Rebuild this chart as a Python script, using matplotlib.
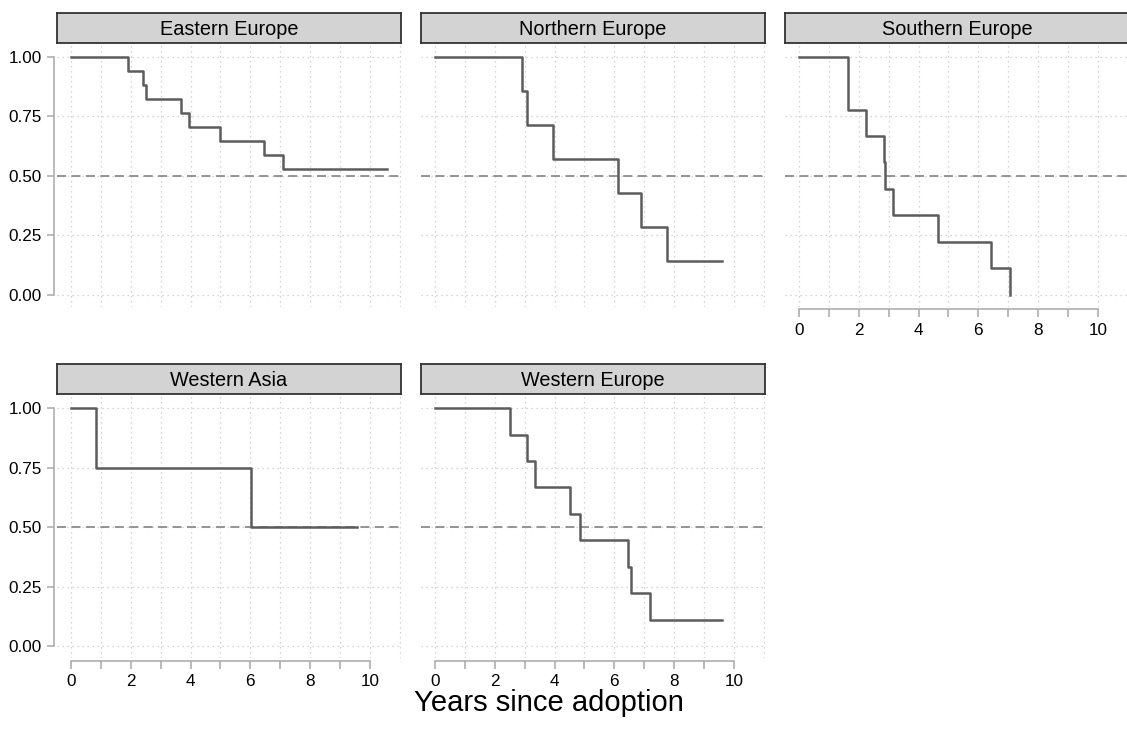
import numpy as np
import matplotlib
matplotlib.use("Agg")
import matplotlib.pyplot as plt

plt.rcParams['font.family'] = ['Liberation Sans', 'DejaVu Sans']

# Kaplan-Meier style curves
regions = ["Eastern Europe", "Northern Europe", "Southern Europe",
           "Western Asia", "Western Europe"]

eastern_t = [0, 1.92, 2.42, 2.50, 3.67, 3.93, 4.99, 6.44, 7.09, 10.57]
eastern_s = [1.0, 0.941, 0.882, 0.824, 0.765, 0.706, 0.647, 0.588, 0.529, 0.529]

northern_t = [0, 2.90, 3.07, 3.93, 6.11, 6.89, 7.77, 9.59]
northern_s = [1.0, 0.857, 0.714, 0.571, 0.429, 0.286, 0.143, 0.143]

southern_t = [0, 1.65, 2.25, 2.83, 2.89, 3.16, 4.66, 6.41, 7.06]
southern_s = [1.0, 0.778, 0.667, 0.556, 0.444, 0.333, 0.222, 0.111, 0.0]

wasia_t = [0, 0.85, 6.02, 9.56]
wasia_s = [1.0, 0.75, 0.50, 0.50]

weurope_t = [0, 2.51, 3.08, 3.34, 4.51, 4.85, 6.44, 6.57, 7.18, 9.59]
weurope_s = [1.0, 0.889, 0.778, 0.667, 0.556, 0.444, 0.333, 0.222, 0.111, 0.111]

curves = [(eastern_t, eastern_s), (northern_t, northern_s), (southern_t, southern_s),
          (wasia_t, wasia_s), (weurope_t, weurope_s)]

x_ticks = np.arange(0, 11, 1)
x_labels = ["0", "", "2", "", "4", "", "6", "", "8", "", "10"]
y_ticks = [0, 0.25, 0.5, 0.75, 1.0]
y_labels = ["0.00", "0.25", "0.50", "0.75", "1.00"]

W, H = 1127, 743
fig = plt.figure(figsize=(W / 100, H / 100), dpi=100)

col_left = [57, 421, 785]
panel_w = 344
row_top = [44.8, 396.4]
row_bot = [306.6, 657.9]
strip_top = [13, 364]
strip_bot = [43, 394]

axis_grey = "#a8a8a8"
line_grey = "#5c5c5c"

for i, (name, (t, s)) in enumerate(zip(regions, curves)):
    r, c = divmod(i, 3)
    left = col_left[c] / W
    bottom = 1 - row_bot[r] / H
    height = (row_bot[r] - row_top[r]) / H
    ax = fig.add_axes([left, bottom, panel_w / W, height])

    ax.set_xlim(-0.47, 11.04)
    ax.set_ylim(-0.05, 1.05)

    # dotted grid
    for gx in range(0, 12):
        ax.axvline(gx, color="#c8c8c8", lw=0.9, ls=(0, (1, 3)), zorder=0)
    for gy in y_ticks:
        ax.axhline(gy, color="#c8c8c8", lw=0.9, ls=(0, (1, 3)), zorder=0)

    ax.axhline(0.5, color="#8c8c8c", lw=1.3, ls=(0, (5, 3)), zorder=1)
    ax.step(t, s, where="post", color=line_grey, lw=1.8, zorder=2)

    for sp in ["top", "right"]:
        ax.spines[sp].set_visible(False)

    show_y = c == 0
    show_x = r == 1 or i == 2

    if show_y:
        ax.spines["left"].set_position(("outward", 2))
        ax.spines["left"].set_bounds(0, 1)
        ax.spines["left"].set_color(axis_grey)
        ax.spines["left"].set_linewidth(1.1)
        ax.set_yticks(y_ticks)
        ax.set_yticklabels(y_labels)
        ax.tick_params(axis="y", length=5, width=1.1, color=axis_grey,
                       labelsize=12.3, pad=4)
    else:
        ax.spines["left"].set_visible(False)
        ax.set_yticks([])

    if show_x:
        ax.spines["bottom"].set_position(("outward", 2))
        ax.spines["bottom"].set_bounds(0, 10)
        ax.spines["bottom"].set_color(axis_grey)
        ax.spines["bottom"].set_linewidth(1.1)
        ax.set_xticks(x_ticks)
        ax.set_xticklabels(x_labels)
        ax.tick_params(axis="x", length=5.8, width=1.1, color=axis_grey,
                       labelsize=12.3, pad=4)
    else:
        ax.spines["bottom"].set_visible(False)
        ax.set_xticks([])

    # facet strip
    sax = fig.add_axes([left, 1 - strip_bot[r] / H, panel_w / W,
                        (strip_bot[r] - strip_top[r]) / H])
    sax.set_facecolor("#d3d3d3")
    sax.set_xticks([])
    sax.set_yticks([])
    for sp in sax.spines.values():
        sp.set_color("#333333")
        sp.set_linewidth(1.3)
    sax.text(0.5, 0.45, name, ha="center", va="center", fontsize=14.3,
             transform=sax.transAxes)

fig.text(549 / W, 1 - 703 / H, "Years since adoption", ha="center", va="center",
         fontsize=21)

fig.savefig("out.png", dpi=100, facecolor="white")
